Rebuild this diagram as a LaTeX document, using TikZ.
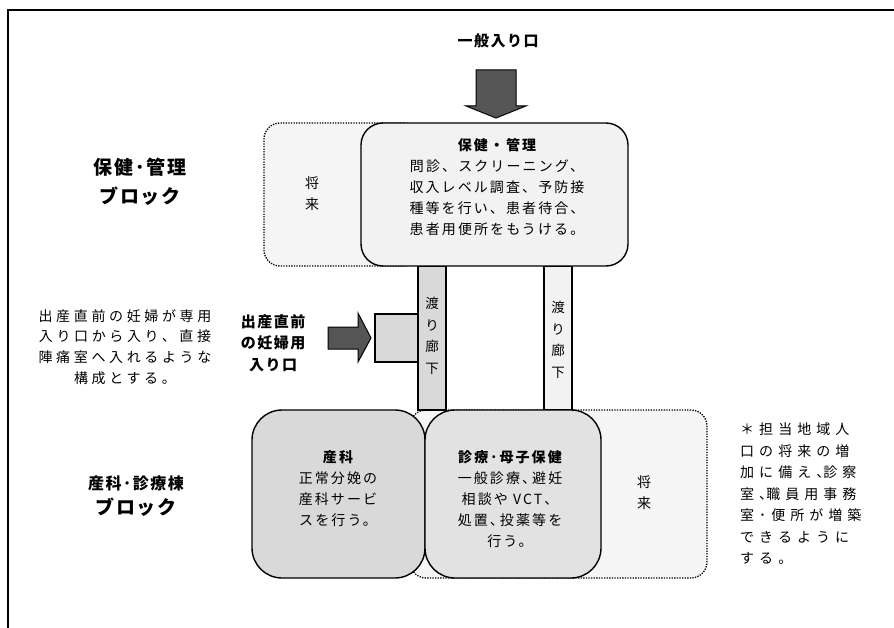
\documentclass[tikz,border=0pt]{standalone}
\usepackage{fontspec}
\setmainfont{Noto Sans CJK JP}
\newfontfamily\jpA{Noto Sans CJK JP}[LetterSpace=15]
\newfontfamily\jpB{Noto Sans CJK JP}[LetterSpace=26]
\newfontfamily\jpC{Noto Sans CJK JP}[LetterSpace=36]
\newfontfamily\jpH{Noto Sans CJK JP}[LetterSpace=10]
\definecolor{arrowgray}{HTML}{555555}
\definecolor{futurefill}{HTML}{F5F5F5}
\definecolor{adminfill}{HTML}{F2F2F2}
\definecolor{obsfill}{HTML}{D9D9D9}
\definecolor{clinicfill}{HTML}{E2E2E2}
\begin{document}
\begin{tikzpicture}[x=1pt,y=-1pt,
  future/.style={draw=black, dash pattern=on 1.3pt off 1.3pt, line width=1.3pt, fill=futurefill, rounded corners=16pt, inner sep=0},
  room/.style={draw=black, line width=1.4pt, inner sep=0},
  corridor/.style={draw=black, line width=1.4pt, inner sep=0, minimum width=28pt, minimum height=144pt},
  txt/.style={font=\jpA\fontsize{14}{21}\selectfont, align=center, inner sep=0},
  bigarrow/.style={draw=black, line width=1pt, fill=arrowgray},
]
\useasboundingbox (0,0) rectangle (894,628);
\draw[line width=1.5pt] (8,628) -- (8,10) -- (894,10);

% future areas
\node[future, minimum width=156pt, minimum height=143pt] (futA) at (342,194.5) {};
\node[future, minimum width=297pt, minimum height=168pt] (futB) at (558.5,494) {};

% corridors
\node[corridor, fill=obsfill] (corL) at (432,338) {};
\node[corridor, fill=adminfill] (corR) at (558,338) {};
\node[room, fill=obsfill, minimum width=43pt, minimum height=48pt] (entbox) at (396.5,338) {};

% main rooms
\node[room, fill=adminfill, rounded corners=22pt, minimum width=267pt, minimum height=143pt] (admin) at (494.5,194.5) {};
\node[room, fill=obsfill, rounded corners=30pt, minimum width=173pt, minimum height=168pt] (obs) at (338.5,494) {};
\node[room, fill=clinicfill, rounded corners=30pt, minimum width=176pt, minimum height=168pt] (clinic) at (513,494) {};

% arrows
\draw[bigarrow] (476,70) -- (516,70) -- (516,106) -- (526,106) -- (496,118) -- (466,106) -- (476,106) -- cycle;
\draw[bigarrow] (328,327) -- (358,327) -- (358,313) -- (371,338) -- (358,362) -- (358,349) -- (328,349) -- cycle;

% texts
\node[txt, font=\jpH\bfseries\fontsize{15}{21}\selectfont] (gentr) at (498,41) {一般入り口};
\node[txt] (admintxt) at (497,187) {{\jpA\bfseries 保健・管理}\\問診、スクリーニング、\\収入レベル調査、予防接\\種等を行い、患者待合、\\患者用便所をもうける。};
\node[txt] (futAtxt) at (312,193.5) {将\\来};
\node[txt] (futBtxt) at (644,493) {将\\来};
\node[txt, font=\jpA\fontsize{13.5}{21.5}\selectfont] (corLtxt) at (432,336) {渡\\り\\廊\\下};
\node[txt, font=\jpA\fontsize{13.5}{21.5}\selectfont] (corRtxt) at (558,340) {渡\\り\\廊\\下};
\node[txt] (obstxt) at (338,489) {{\bfseries 産科}\\正常分娩の\\産科サービ\\スを行う。};
\node[txt] (clinictxt) at (510,499.5) {{\bfseries 診療･母子保健}\\一般診療、\kern-4pt 避妊\\相談や VCT、\\処置、\kern-4pt 投薬等を\\行う。};
\node[txt, font=\jpH\bfseries\fontsize{15}{21.5}\selectfont] (enttxt) at (273,343) {出産直前\\の妊婦用\\入り口};
\node[txt, font=\jpB\fontsize{14}{20.7}\selectfont] (notetxt) at (125,347) {出産直前の妊婦が専用\\入り口から入り、直接\\陣痛室へ入れるような\\構成とする。};
\node[txt, font=\jpC\fontsize{14}{21.5}\selectfont, align=left, anchor=north west] (futnote) at (740,423) {＊担当地域人\\口の将来の増\\加に備え、\kern-7pt 診察\\室、\kern-7pt 職員用事務\\室･便所が増築\\できるように\\する。};
\node[txt, font=\jpH\bfseries\fontsize{19}{29}\selectfont] (blockA) at (140,182) {保健･管理\\ブロック};
\node[txt, font=\jpH\bfseries\fontsize{16}{24}\selectfont] (blockB1) at (136,483) {産科･診療棟};
\node[txt, font=\jpH\bfseries\fontsize{19}{24}\selectfont] (blockB2) at (136,507) {ブロック};
\end{tikzpicture}
\end{document}
